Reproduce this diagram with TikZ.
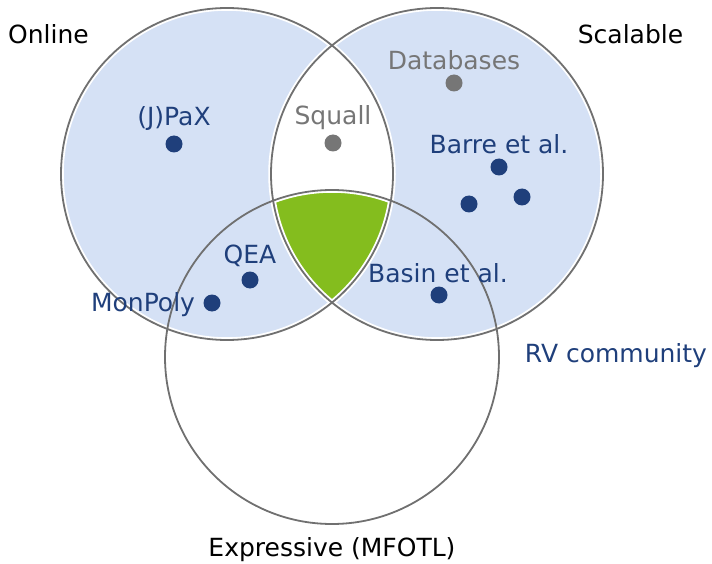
\documentclass[tikz,border=0pt]{standalone}
\usepackage{fontspec}
\setmainfont{DejaVu Sans}
\definecolor{setblue}{HTML}{D5E1F5}
\definecolor{setgreen}{HTML}{84BD1E}
\definecolor{navy}{HTML}{1F3F7B}
\definecolor{mutedgray}{HTML}{767676}
\definecolor{ringgray}{HTML}{707070}
\tikzset{
  lbl/.style={anchor=base, inner sep=0pt, font=\fontsize{25}{30}\selectfont},
  pt/.style={circle, fill=#1, minimum size=17pt, inner sep=0pt},
  ring/.style={draw=ringgray, line width=1.8pt},
  halo/.style={draw=white, line width=5.5pt},
}
\begin{document}
\begin{tikzpicture}[x=1pt,y=-1pt]
\useasboundingbox (0,0) rectangle (712,564);
% set centres
\coordinate (cO) at (227,174);
\coordinate (cS) at (437,174);
\coordinate (cE) at (332,357);
\def\rOS{166pt}
\def\rE{167pt}

% region fills
\fill[setblue] (cO) circle[radius=\rOS];
\fill[setblue] (cS) circle[radius=\rOS];
\begin{scope}
  \clip (cO) circle[radius=\rOS];
  \fill[white] (cS) circle[radius=\rOS];
  \clip (cE) circle[radius=\rE];
  \fill[setgreen] (cS) circle[radius=\rOS];
\end{scope}

% white borders around the filled regions
\draw[halo] (cO) circle[radius=\rOS];
\draw[halo] (cS) circle[radius=\rOS];
\begin{scope}
  \clip (cO) circle[radius=\rOS];
  \clip (cS) circle[radius=\rOS];
  \draw[halo] (cE) circle[radius=\rE];
\end{scope}

% outlines
\draw[ring] (cO) circle[radius=\rOS];
\draw[ring] (cS) circle[radius=\rOS];
\draw[ring] (cE) circle[radius=\rE];

% set titles
\node[lbl] (online) at (48.5,44) {Online};
\node[lbl] (scalable) at (630.5,44) {Scalable};
\node[lbl] (expressive) at (332,556) {Expressive (MFOTL)};
\node[lbl, text=navy] (rv) at (616,362) {RV community};

% tools
\node[lbl, text=navy] (jpax) at (174,126) {(J)PaX};
\node[pt=navy] (jpaxdot) at (174,144) {};

\node[lbl, text=mutedgray] (squall) at (333,125) {Squall};
\node[pt=mutedgray] (squalldot) at (333,143) {};

\node[lbl, text=mutedgray] (db) at (454,70) {Databases};
\node[pt=mutedgray] (dbdot) at (454,83) {};

\node[lbl, text=navy] (barre) at (499,154) {Barre et al.};
\node[pt=navy] (barre1) at (499,167) {};
\node[pt=navy] (barre2) at (522,197) {};
\node[pt=navy] (barre3) at (469,204) {};

\node[lbl, text=navy] (qea) at (250,263) {QEA};
\node[pt=navy] (qeadot) at (250,280) {};

\node[lbl, text=navy] (monpoly) at (143,311) {MonPoly};
\node[pt=navy] (monpolydot) at (212,303) {};

\node[lbl, text=navy] (basin) at (438,282) {Basin et al.};
\node[pt=navy] (basindot) at (439,295) {};
\end{tikzpicture}
\end{document}
